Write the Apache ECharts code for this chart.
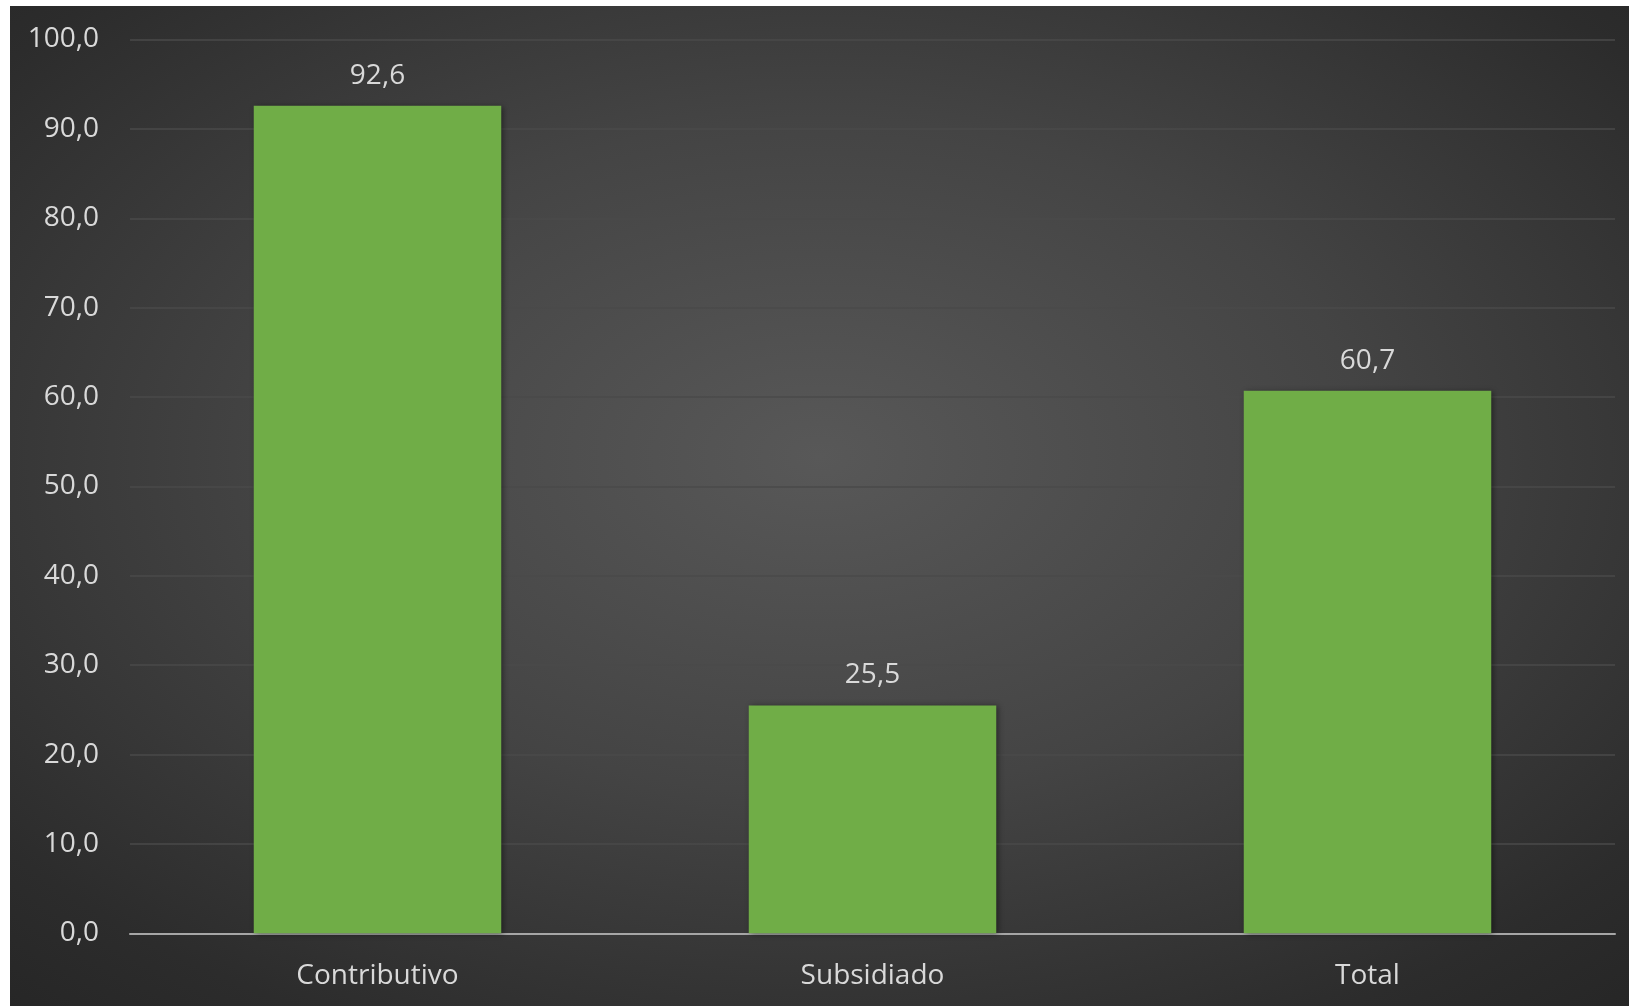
<!DOCTYPE html>
<html>
<head>
<meta charset="utf-8">
<script src="https://cdn.jsdelivr.net/npm/echarts@6/dist/echarts.min.js"></script>
<style>
  html, body { margin: 0; padding: 0; background: #ffffff; width: 1629px; height: 1006px; overflow: hidden; }
  #chart {
    position: absolute; left: 10px; top: 6px; width: 1619px; height: 1000px;
    background: radial-gradient(ellipse 75% 75% at 50% 45%, #585858 0%, #444444 45%, #2c2c2c 85%, #262626 100%);
  }
</style>
</head>
<body>
<div id="chart"></div>
<script>
// Categories and values (percent)
const categories = ['Contributivo', 'Subsidiado', 'Total'];
const values = [92.6, 25.5, 60.7];

const fmt = v => Number(v).toFixed(1).replace('.', ',');
const textColor = '#d9d9d9';
const fontFamily = '"Open Sans", sans-serif';

const chart = echarts.init(document.getElementById('chart'), null, { renderer: 'canvas' });
chart.setOption({
  backgroundColor: 'transparent',
  animation: false,
  grid: { left: 120, right: 14, top: 33.5, bottom: 72.7, containLabel: false },
  xAxis: {
    type: 'category',
    data: categories,
    axisTick: { show: false },
    axisLine: { lineStyle: { color: '#a6a6a6', width: 2 } },
    axisLabel: { color: textColor, fontSize: 28, fontFamily: fontFamily, margin: 29 }
  },
  yAxis: {
    type: 'value',
    min: 0, max: 100, interval: 10,
    axisLine: { show: false },
    axisTick: { show: false },
    splitLine: { lineStyle: { color: '#4a4a4a', width: 1.5 } },
    axisLabel: { color: textColor, fontSize: 28, fontFamily: fontFamily, margin: 31, formatter: fmt }
  },
  series: [{
    type: 'bar',
    data: values,
    barCategoryGap: '50%',
    itemStyle: {
      color: '#70ad47',
      shadowColor: 'rgba(0,0,0,0.45)',
      shadowBlur: 6,
      shadowOffsetX: 2,
      shadowOffsetY: 1
    },
    label: {
      show: true,
      position: 'top',
      distance: 16,
      color: textColor,
      fontSize: 28,
      fontFamily: fontFamily,
      formatter: p => fmt(p.value)
    }
  }]
});
</script>
</body>
</html>
